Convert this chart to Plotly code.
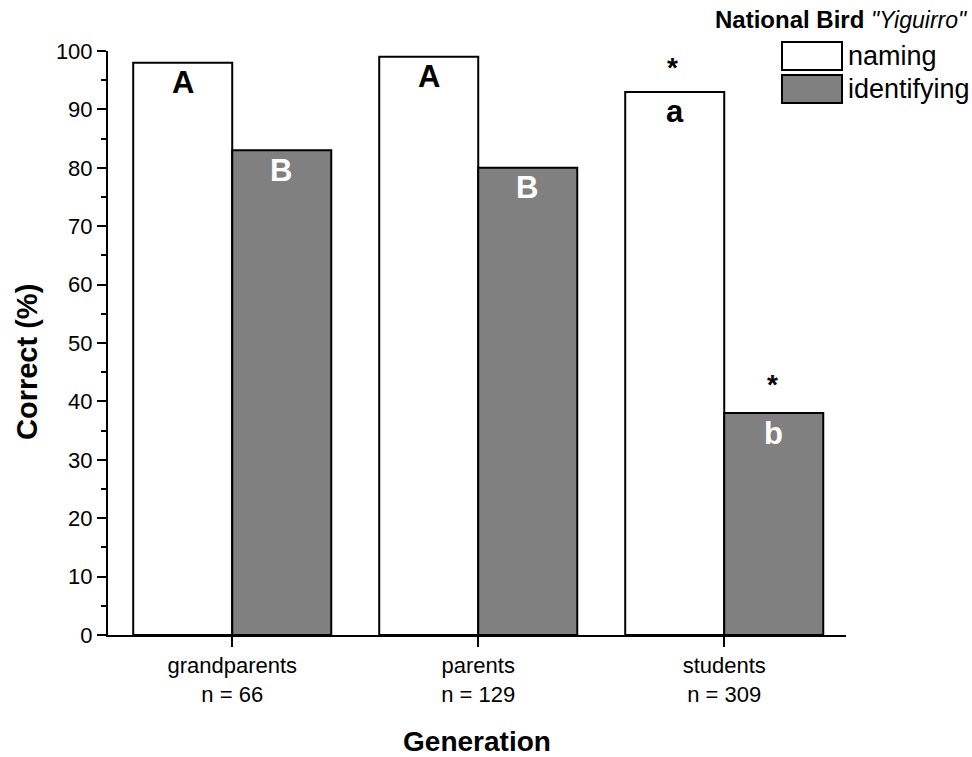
import plotly.graph_objects as go

# Survey results: recognition of the national bird by generation
categories = ["grandparents", "parents", "students"]
sample_sizes = [66, 129, 309]
naming = [98, 99, 93]
identifying = [83, 80, 38]
naming_letters = ["A", "A", "a"]
identifying_letters = ["B", "B", "b"]
naming_stars = ["", "", "*"]
identifying_stars = ["", "", "*"]
y_ticks = list(range(0, 101, 10))

FONT = "Arial, Liberation Sans, sans-serif"
GREY = "#808080"

tick_text = [f"{c}<br>n = {n}" for c, n in zip(categories, sample_sizes)]

fig = go.Figure()
fig.add_trace(go.Bar(
    x=categories, y=naming, name="naming", offsetgroup="n",
    marker=dict(color="white", line=dict(color="black", width=2)),
))
fig.add_trace(go.Bar(
    x=categories, y=identifying, name="identifying", offsetgroup="i",
    marker=dict(color=GREY, line=dict(color="black", width=2)),
))

# significance letters inside bar tops, asterisks above
for i, c in enumerate(categories):
    fig.add_annotation(x=i, xshift=-49, y=naming[i], yshift=-20, yanchor="middle",
                       text=f"<b>{naming_letters[i]}</b>", showarrow=False,
                       font=dict(family=FONT, size=31, color="black"))
    fig.add_annotation(x=i, xshift=49, y=identifying[i], yshift=-20, yanchor="middle",
                       text=f"<b>{identifying_letters[i]}</b>", showarrow=False,
                       font=dict(family=FONT, size=31, color="white"))
    if naming_stars[i]:
        fig.add_annotation(x=i, xshift=-52, y=naming[i], yshift=7, yanchor="bottom",
                           text=f"<b>{naming_stars[i]}</b>", showarrow=False,
                           font=dict(family=FONT, size=28, color="black"))
    if identifying_stars[i]:
        fig.add_annotation(x=i, xshift=48, y=identifying[i], yshift=11, yanchor="bottom",
                           text=f"<b>{identifying_stars[i]}</b>", showarrow=False,
                           font=dict(family=FONT, size=28, color="black"))

# y-axis title placed slightly below the plot centre
fig.add_annotation(xref="paper", yref="paper", x=(27 - 108) / 738, y=(635 - 362) / 584,
                   xanchor="center", yanchor="middle", textangle=-90,
                   text="<b>Correct (%)</b>", showarrow=False,
                   font=dict(family=FONT, size=29, color="black"))

# legend drawn manually at top right
fig.add_annotation(xref="paper", yref="paper", x=(970 - 108) / 738, y=(635 - 20) / 584,
                   xanchor="right", yanchor="middle",
                   text="<b>National Bird</b> <span style='font-size:23px'><i>\"Yiguirro\"</i></span>",
                   showarrow=False, font=dict(family=FONT, size=24, color="black"))
legend_rows = [("naming", "white", 56), ("identifying", GREY, 89)]
for label, color, ypix in legend_rows:
    fig.add_shape(type="rect", xref="x domain", yref="paper",
                  x0=(782 - 108) / 738, x1=(842 - 108) / 738,
                  y0=(635 - (ypix - 14)) / 584, y1=(635 - (ypix + 14)) / 584,
                  line=dict(color="black", width=2), fillcolor=color)
    fig.add_annotation(xref="paper", yref="paper", x=(846 - 108) / 738, y=(635 - ypix) / 584,
                       xanchor="left", yanchor="middle", text=label, showarrow=False,
                       font=dict(family=FONT, size=27, color="black"))

fig.update_layout(
    width=972, height=757,
    margin=dict(l=108, r=126, t=51, b=122, autoexpand=False),
    paper_bgcolor="white", plot_bgcolor="white",
    barmode="group", bargap=0.195, bargroupgap=0,
    showlegend=False,
    font=dict(family=FONT, size=22, color="black"),
)
fig.update_xaxes(
    range=[-0.505, 2.495], tickmode="array", tickvals=[0, 1, 2], ticktext=tick_text,
    showline=True, linecolor="black", linewidth=2, automargin=False,
    ticks="outside", ticklen=10, tickwidth=2, tickcolor="black",
    tickfont=dict(size=22), showgrid=False, zeroline=False,
    title=dict(text="<b>Generation</b>", font=dict(size=28), standoff=28),
)
fig.update_yaxes(
    range=[0, 100], tickvals=y_ticks, automargin=False,
    showline=True, linecolor="black", linewidth=2,
    ticks="outside", ticklen=9, tickwidth=2, tickcolor="black",
    minor=dict(ticks="outside", ticklen=5, tickwidth=2, tickcolor="black", dtick=5),
    tickfont=dict(size=22), showgrid=False, zeroline=False,
)

fig.write_html("out.html")
